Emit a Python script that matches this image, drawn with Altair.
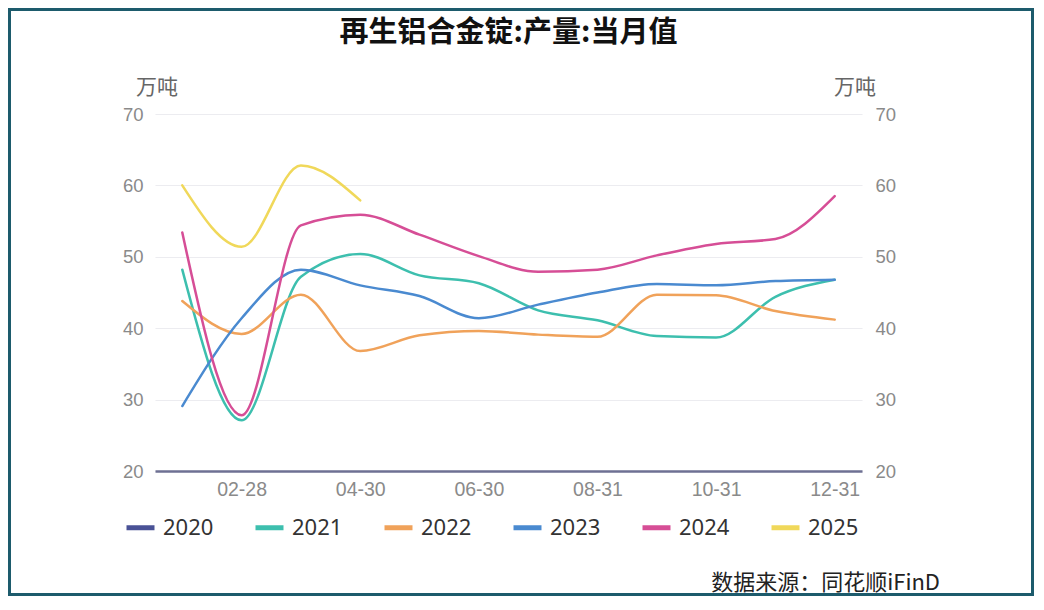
import altair as alt
import pandas as pd

title_text = "再生铝合金锭:产量:当月值"
unit_text = "万吨"
source_text = "数据来源：同花顺iFinD"

months = ["01-31", "02-28", "03-31", "04-30", "05-31", "06-30",
          "07-31", "08-31", "09-30", "10-31", "11-30", "12-31"]
tick_labels = ["02-28", "04-30", "06-30", "08-31", "10-31", "12-31"]
years = ["2020", "2021", "2022", "2023", "2024", "2025"]
colors = ["#4a5296", "#3dbfae", "#f0a25a", "#4a8ad0", "#d64e96", "#f0d85a"]

y2020 = []
y2021 = [48.2, 27.1, 47.2, 50.4, 47.4, 46.3, 42.5, 41.1, 38.9, 38.7, 44.4, 46.8]
y2022 = [43.8, 39.2, 44.7, 36.8, 39.0, 39.6, 39.1, 38.8, 44.7, 44.6, 42.4, 41.2]
y2023 = [29.1, 41.4, 48.2, 46.0, 44.5, 41.4, 43.3, 45.0, 46.2, 46.0, 46.6, 46.8]
y2024 = [53.4, 27.8, 54.4, 55.9, 53.1, 50.1, 47.9, 48.2, 50.2, 51.8, 52.5, 58.5]
y2025 = [60.0, 51.4, 62.8, 57.9]

series = {"2020": y2020, "2021": y2021, "2022": y2022,
          "2023": y2023, "2024": y2024, "2025": y2025}
rows = []
for yr, vals in series.items():
    for m, v in zip(months, vals):
        rows.append({"month": m, "year": yr, "value": v})
df = pd.DataFrame(rows)

W, H = 707, 357
PL, PT, PR, PB = 147, 106, 172, 125

x_enc = alt.X("month:O", sort=months, title=None,
              scale=alt.Scale(type="point", padding=0.46),
              axis=alt.Axis(values=tick_labels, labelAngle=0, ticks=False,
                            domain=True, domainColor="#6e7093", domainWidth=2.5,
                            labelColor="#8a8a8a", labelFontSize=19.5,
                            labelFont="Liberation Sans", labelPadding=9,
                            grid=False))

lines = alt.Chart(df).mark_line(interpolate="monotone",
                                strokeWidth=2.5, strokeCap="round").encode(
    x=x_enc,
    y=alt.Y("value:Q", title=None,
            scale=alt.Scale(domain=[20, 70], nice=False, zero=False),
            axis=alt.Axis(values=[20, 30, 40, 50, 60, 70], ticks=False,
                          domain=False, grid=True, gridColor="#ececf0",
                          gridWidth=1.2, labelColor="#8a8a8a", labelFontSize=18.5,
                          labelFont="Liberation Sans", labelPadding=12)),
    color=alt.Color("year:N", title=None,
                    scale=alt.Scale(domain=years, range=colors),
                    legend=alt.Legend(orient="none", legendX=-31, legendY=397,
                                      direction="horizontal",
                                      symbolType="stroke", symbolSize=784,
                                      symbolStrokeWidth=5, labelOffset=6,
                                      columnPadding=31, labelFontSize=22,
                                      labelFont="Noto Sans", labelColor="#333333")),
    detail="year:N",
)

right_axis = alt.Chart(df).mark_line(strokeOpacity=0).encode(
    x=alt.X("month:O", sort=months, title=None,
            scale=alt.Scale(type="point", padding=0.46)),
    y=alt.Y("value:Q", title=None,
            scale=alt.Scale(domain=[20, 70], nice=False, zero=False),
            axis=alt.Axis(orient="right", values=[20, 30, 40, 50, 60, 70],
                          ticks=False, domain=False, grid=False,
                          labelColor="#8a8a8a", labelFontSize=18.5,
                          labelFont="Liberation Sans", labelPadding=13)),
    detail="year:N",
)

one = pd.DataFrame({"t": [title_text]})
title = alt.Chart(one).mark_text(fontSize=29, fontWeight="bold",
                                 font="Noto Sans CJK SC", color="#111111",
                                 align="center", baseline="middle").encode(
    text="t:N", x=alt.value(W / 2), y=alt.value(-81))

units = pd.DataFrame({"t": [unit_text]})
unit_left = alt.Chart(units).mark_text(fontSize=21, font="Noto Sans CJK SC",
                                       color="#666666", align="center",
                                       baseline="middle").encode(
    text="t:N", x=alt.value(2), y=alt.value(-26))
unit_right = alt.Chart(units).mark_text(fontSize=21, font="Noto Sans CJK SC",
                                        color="#666666", align="center",
                                        baseline="middle").encode(
    text="t:N", x=alt.value(700), y=alt.value(-26))

src = pd.DataFrame({"t": [source_text]})
source = alt.Chart(src).mark_text(fontSize=22, font="Noto Sans CJK SC",
                                  color="#222222", align="right",
                                  baseline="middle").encode(
    text="t:N", x=alt.value(785), y=alt.value(469))

border = alt.Chart(one).mark_rect(filled=False, stroke="#1d5b6c",
                                  strokeWidth=3).encode(
    x=alt.value(-PL + 1.5), x2=alt.value(W + PR - 1.5),
    y=alt.value(-PT + 1.5), y2=alt.value(H + PB - 1.5))

chart = alt.layer(lines, right_axis, title, unit_left, unit_right, source,
                  border).resolve_scale(y="independent").properties(
    width=W, height=H,
    autosize=alt.AutoSizeParams(type="none"),
    padding={"left": PL, "top": PT, "right": PR, "bottom": PB},
    background="white",
).configure_view(stroke=None)

chart.save("out.html", embed_options={"renderer": "svg", "actions": False})
